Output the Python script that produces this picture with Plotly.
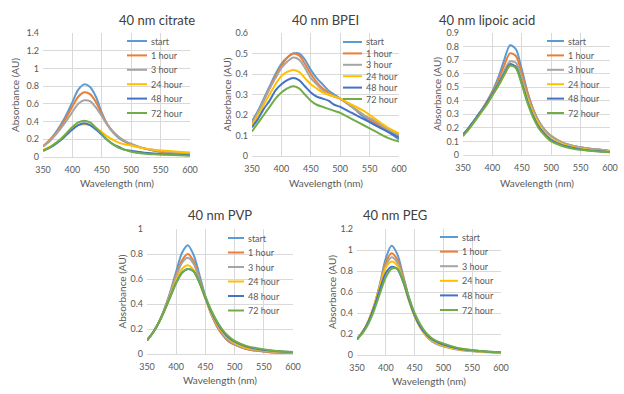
import plotly.graph_objects as go

wavelength = [350, 360, 370, 380, 390, 400, 410, 420, 430, 440, 450, 460, 470, 480, 490, 500, 520, 540, 560, 580, 600]
series_names = ["start", "1 hour", "3 hour", "24 hour", "48 hour", "72 hour"]
colors = ["#5B9BD5", "#ED7D31", "#A5A5A5", "#FFC000", "#4472C4", "#70AD47"]

titles = ["40 nm citrate", "40 nm BPEI", "40 nm lipoic acid", "40 nm PVP", "40 nm PEG"]
x_title = "Wavelength (nm)"
y_title = "Absorbance (AU)"

citrate = [
    [0.12, 0.18, 0.26, 0.36, 0.48, 0.62, 0.76, 0.82, 0.79, 0.68, 0.50, 0.36, 0.27, 0.21, 0.17, 0.14, 0.10, 0.07, 0.05, 0.04, 0.03],
    [0.12, 0.18, 0.25, 0.34, 0.45, 0.57, 0.68, 0.73, 0.71, 0.62, 0.48, 0.36, 0.28, 0.22, 0.17, 0.14, 0.10, 0.07, 0.05, 0.04, 0.03],
    [0.12, 0.17, 0.24, 0.32, 0.41, 0.51, 0.60, 0.64, 0.63, 0.56, 0.46, 0.36, 0.28, 0.22, 0.18, 0.15, 0.10, 0.08, 0.06, 0.045, 0.035],
    [0.08, 0.11, 0.15, 0.20, 0.26, 0.32, 0.36, 0.37, 0.36, 0.33, 0.28, 0.23, 0.19, 0.16, 0.14, 0.13, 0.10, 0.08, 0.07, 0.06, 0.05],
    [0.07, 0.10, 0.14, 0.19, 0.25, 0.31, 0.36, 0.38, 0.36, 0.31, 0.25, 0.19, 0.14, 0.11, 0.08, 0.07, 0.05, 0.04, 0.03, 0.025, 0.02],
    [0.07, 0.10, 0.15, 0.20, 0.27, 0.34, 0.39, 0.41, 0.39, 0.33, 0.26, 0.19, 0.14, 0.10, 0.08, 0.06, 0.04, 0.03, 0.025, 0.02, 0.015],
]
bpei = [
    [0.17, 0.22, 0.28, 0.34, 0.40, 0.45, 0.48, 0.50, 0.50, 0.47, 0.42, 0.38, 0.35, 0.32, 0.30, 0.28, 0.24, 0.19, 0.15, 0.12, 0.08],
    [0.16, 0.21, 0.27, 0.33, 0.39, 0.44, 0.48, 0.50, 0.49, 0.45, 0.40, 0.36, 0.33, 0.31, 0.29, 0.28, 0.24, 0.20, 0.16, 0.13, 0.10],
    [0.16, 0.21, 0.27, 0.33, 0.38, 0.43, 0.46, 0.48, 0.47, 0.43, 0.38, 0.35, 0.32, 0.30, 0.29, 0.28, 0.24, 0.20, 0.17, 0.13, 0.10],
    [0.15, 0.20, 0.25, 0.30, 0.35, 0.39, 0.41, 0.42, 0.41, 0.38, 0.35, 0.33, 0.31, 0.30, 0.29, 0.28, 0.25, 0.22, 0.18, 0.14, 0.11],
    [0.14, 0.18, 0.23, 0.27, 0.32, 0.35, 0.37, 0.38, 0.37, 0.34, 0.31, 0.29, 0.28, 0.27, 0.25, 0.24, 0.21, 0.18, 0.15, 0.12, 0.09],
    [0.12, 0.16, 0.20, 0.24, 0.28, 0.31, 0.33, 0.34, 0.33, 0.30, 0.27, 0.25, 0.24, 0.23, 0.22, 0.21, 0.18, 0.15, 0.12, 0.09, 0.07],
]
lipoic = [
    [0.15, 0.20, 0.26, 0.32, 0.39, 0.47, 0.57, 0.70, 0.81, 0.78, 0.63, 0.46, 0.33, 0.24, 0.18, 0.14, 0.09, 0.065, 0.05, 0.04, 0.03],
    [0.15, 0.20, 0.26, 0.32, 0.39, 0.46, 0.55, 0.66, 0.75, 0.73, 0.60, 0.45, 0.33, 0.24, 0.18, 0.14, 0.09, 0.065, 0.05, 0.04, 0.03],
    [0.15, 0.20, 0.26, 0.32, 0.38, 0.45, 0.53, 0.62, 0.69, 0.68, 0.57, 0.43, 0.32, 0.24, 0.18, 0.14, 0.09, 0.065, 0.05, 0.04, 0.03],
    [0.14, 0.19, 0.25, 0.31, 0.37, 0.44, 0.51, 0.59, 0.66, 0.65, 0.54, 0.41, 0.30, 0.22, 0.16, 0.12, 0.08, 0.055, 0.04, 0.03, 0.025],
    [0.15, 0.20, 0.26, 0.32, 0.38, 0.45, 0.52, 0.60, 0.67, 0.65, 0.53, 0.39, 0.28, 0.20, 0.15, 0.11, 0.07, 0.05, 0.035, 0.03, 0.02],
    [0.14, 0.19, 0.25, 0.31, 0.37, 0.44, 0.51, 0.59, 0.66, 0.64, 0.52, 0.38, 0.27, 0.19, 0.14, 0.10, 0.065, 0.045, 0.035, 0.025, 0.02],
]
pvp = [
    [0.11, 0.17, 0.25, 0.36, 0.50, 0.66, 0.81, 0.87, 0.79, 0.63, 0.46, 0.32, 0.22, 0.15, 0.10, 0.075, 0.04, 0.025, 0.015, 0.01, 0.008],
    [0.11, 0.17, 0.25, 0.36, 0.49, 0.63, 0.75, 0.80, 0.74, 0.60, 0.45, 0.32, 0.22, 0.15, 0.10, 0.075, 0.04, 0.025, 0.015, 0.01, 0.008],
    [0.11, 0.17, 0.25, 0.36, 0.49, 0.62, 0.73, 0.77, 0.72, 0.59, 0.45, 0.32, 0.23, 0.16, 0.11, 0.08, 0.045, 0.03, 0.02, 0.012, 0.01],
    [0.11, 0.17, 0.25, 0.35, 0.47, 0.59, 0.68, 0.71, 0.67, 0.57, 0.44, 0.33, 0.24, 0.17, 0.12, 0.09, 0.05, 0.035, 0.025, 0.018, 0.012],
    [0.11, 0.17, 0.25, 0.35, 0.46, 0.57, 0.65, 0.68, 0.66, 0.57, 0.45, 0.34, 0.25, 0.18, 0.13, 0.10, 0.06, 0.04, 0.028, 0.02, 0.015],
    [0.11, 0.17, 0.25, 0.35, 0.46, 0.57, 0.65, 0.68, 0.66, 0.57, 0.46, 0.35, 0.26, 0.19, 0.14, 0.105, 0.065, 0.045, 0.03, 0.022, 0.016],
]
peg = [
    [0.15, 0.22, 0.32, 0.47, 0.68, 0.92, 1.04, 0.96, 0.76, 0.55, 0.38, 0.27, 0.19, 0.14, 0.11, 0.09, 0.06, 0.045, 0.035, 0.028, 0.02],
    [0.15, 0.22, 0.32, 0.47, 0.67, 0.88, 0.97, 0.91, 0.74, 0.54, 0.38, 0.27, 0.19, 0.14, 0.11, 0.09, 0.06, 0.045, 0.035, 0.028, 0.02],
    [0.15, 0.22, 0.32, 0.47, 0.66, 0.85, 0.93, 0.88, 0.72, 0.53, 0.37, 0.26, 0.18, 0.13, 0.10, 0.08, 0.055, 0.04, 0.03, 0.025, 0.02],
    [0.15, 0.22, 0.33, 0.48, 0.66, 0.83, 0.89, 0.85, 0.70, 0.52, 0.37, 0.26, 0.19, 0.14, 0.11, 0.09, 0.06, 0.045, 0.035, 0.028, 0.022],
    [0.15, 0.22, 0.32, 0.46, 0.63, 0.78, 0.84, 0.82, 0.70, 0.53, 0.38, 0.27, 0.20, 0.15, 0.12, 0.10, 0.07, 0.05, 0.04, 0.03, 0.025],
    [0.15, 0.21, 0.30, 0.43, 0.59, 0.74, 0.82, 0.82, 0.71, 0.55, 0.40, 0.29, 0.21, 0.16, 0.13, 0.11, 0.075, 0.055, 0.04, 0.032, 0.025],
]
panels = [citrate, bpei, lipoic, pvp, peg]
y_max = [1.4, 0.6, 0.9, 1.0, 1.2]
y_step = [0.2, 0.1, 0.1, 0.2, 0.2]

W, H = 624, 394
# plot-area boxes in pixels: (left, right, top, bottom)
boxes = [(43, 190, 33, 157), (252, 399, 33, 156), (463, 610, 33, 155),
         (147, 293, 229, 354), (357, 501, 229, 355)]
# axis-title placement in pixels: (y-title x, x-title y)
axis_title_pos = [(15, 183), (227, 183), (437, 183), (121, 380), (332, 381)]
# legend placement in pixels: (line start x, line end x, first row y, row spacing)
legend_pos = [(127, 147, 41, 14.4), (343, 362, 42, 11.4), (547, 564, 41, 14.4),
              (228, 244, 238, 14.5), (440, 458, 237, 14.6)]

FONT = "Lato, 'Open Sans', sans-serif"
fig = go.Figure()
layout = dict(width=W, height=H, margin=dict(l=0, r=0, t=0, b=0),
              paper_bgcolor="white", plot_bgcolor="white", showlegend=False,
              font=dict(family=FONT, color="#595959", size=9),
              annotations=[], shapes=[])

for i, (data, box) in enumerate(zip(panels, boxes)):
    n = "" if i == 0 else str(i + 1)
    for name, col, ys in zip(series_names, colors, data):
        fig.add_trace(go.Scatter(x=wavelength, y=ys, name=name, mode="lines",
                                 line=dict(color=col, width=2, shape="spline", smoothing=0.8),
                                 xaxis="x" + n, yaxis="y" + n))
    l, r, t, b = box
    layout["xaxis" + n] = dict(domain=[l / W, r / W], anchor="y" + n, range=[350, 600], dtick=50,
                              showgrid=True, gridcolor="#D9D9D9", zeroline=False, automargin=False,
                              showline=True, linecolor="#D9D9D9", ticks="", ticklabeloverflow="allow",
                              ticklabelstandoff=4,
                              tickfont=dict(size=9, color="#595959"))
    layout["yaxis" + n] = dict(domain=[1 - b / H, 1 - t / H], anchor="x" + n, range=[0, y_max[i]],
                              dtick=y_step[i], showgrid=True, gridcolor="#D9D9D9", zeroline=False,
                              showline=False, ticks="", automargin=False, ticklabeloverflow="allow",
                              ticklabelstandoff=3,
                              tickfont=dict(size=9, color="#595959"))
    layout["annotations"].append(dict(text=titles[i], x=(l + r) / 2 / W, y=1 - (t - 13.5) / H,
                                      xref="paper", yref="paper", showarrow=False,
                                      font=dict(size=13, color="#404040"), yanchor="middle"))
    yx, xy = axis_title_pos[i]
    layout["annotations"].append(dict(text=y_title, x=yx / W, y=1 - (t + b) / 2 / H, textangle=-90,
                                      xref="paper", yref="paper", showarrow=False,
                                      xanchor="center", yanchor="middle",
                                      font=dict(size=10, color="#595959")))
    layout["annotations"].append(dict(text=x_title, x=(l + r) / 2 / W, y=1 - xy / H,
                                      xref="paper", yref="paper", showarrow=False,
                                      xanchor="center", yanchor="middle",
                                      font=dict(size=10, color="#595959")))
    x0, x1, y0, dy = legend_pos[i]
    for k, (name, col) in enumerate(zip(series_names, colors)):
        yy = 1 - (y0 + k * dy) / H
        layout["shapes"].append(dict(type="line", xref="paper", yref="paper",
                                     x0=x0 / W, x1=x1 / W, y0=yy, y1=yy,
                                     line=dict(color=col, width=2)))
        layout["annotations"].append(dict(text=name, x=(x1 + 2) / W, y=yy, xref="paper", yref="paper",
                                          xanchor="left", yanchor="middle", showarrow=False,
                                          font=dict(size=9, color="#595959")))

fig.update_layout(**layout)
fig.write_html("out.html", config={"displayModeBar": False},
               post_script="document.body.style.margin='0';document.body.style.overflow='hidden';")
